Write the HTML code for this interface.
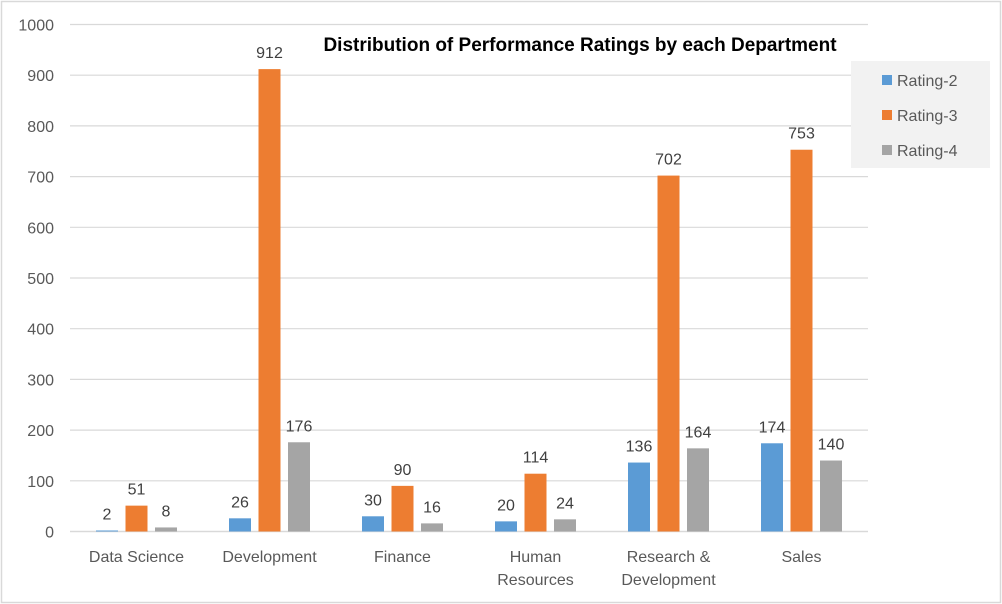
<!DOCTYPE html>
<html><head><meta charset="utf-8"><style>
body{margin:0;background:#fff;}
svg{display:block;font-family:"Liberation Sans",sans-serif;}
</style></head><body>
<svg width="1002" height="604">
<rect x="1.5" y="1.5" width="999" height="601" fill="#fff" stroke="#d9d9d9" stroke-width="1.5"/>
<g id="grid"></g><g id="bars"></g><g id="labels"></g>
<text x="580" y="51" text-anchor="middle" font-size="19" font-weight="bold" fill="#000">Distribution of Performance Ratings by each Department</text>
<g>
<rect x="851" y="61" width="139" height="107" fill="#f2f2f2"/>
<g id="legend"></g>
</g>
</svg>
<script>
const categories=[["Data Science"],["Development"],["Finance"],["Human","Resources"],["Research &","Development"],["Sales"]];
const rating2=[2,26,30,20,136,174];
const rating3=[51,912,90,114,702,753];
const rating4=[8,176,16,24,164,140];
const seriesNames=["Rating-2","Rating-3","Rating-4"];
const yTicks=[0,100,200,300,400,500,600,700,800,900,1000];
const colors=["#5b9bd5","#ed7d31","#a5a5a5"];
const NS="http://www.w3.org/2000/svg";
const x0=70,x1=868,yBase=531.5,yTop=24.5;
const y=v=>yBase-(v/1000)*(yBase-yTop);
const band=(x1-x0)/categories.length;
const cx=i=>x0+band*(i+0.5);
function mk(tag,attrs,parent,text){const e=document.createElementNS(NS,tag);for(const k in attrs)e.setAttribute(k,attrs[k]);if(text!==undefined)e.textContent=text;parent.appendChild(e);return e;}
const grid=document.getElementById('grid'),bars=document.getElementById('bars'),labels=document.getElementById('labels'),legend=document.getElementById('legend');
yTicks.forEach(t=>{
 const l=mk('line',{x1:x0,x2:x1,y1:y(t),y2:y(t),stroke:'#d9d9d9','stroke-width':t===0?1.5:1.2},grid);
 
 
 const tx=mk('text',{x:54,y:y(t)+6,'text-anchor':'end','font-size':16,fill:'#595959'},grid,String(t));
 
 
});
const series=[rating2,rating3,rating4];
categories.forEach((c,i)=>{
 series.forEach((s,j)=>{
  const bx=cx(i)+(j-1)*29.5-11;
  const r=mk('rect',{x:bx,y:y(s[i]),width:22,height:yBase-y(s[i]),fill:colors[j]},bars);
  
  
  const t=mk('text',{x:bx+11,y:y(s[i])-11,'text-anchor':'middle','font-size':16,fill:'#404040'},labels,String(s[i]));
  
  
 });
 c.forEach((line,k)=>{
  const t=mk('text',{x:cx(i),y:562+k*23,'text-anchor':'middle','font-size':16,fill:'#595959'},labels,line);
  
  
 });
});
seriesNames.forEach((n,j)=>{
 const r=mk('rect',{x:882,y:75+j*35,width:10,height:10,fill:colors[j]},legend);
 
 
 const t=mk('text',{x:897,y:86+j*35,'font-size':16,fill:'#595959'},legend,n);
 
 
});
</script>
</body></html>
